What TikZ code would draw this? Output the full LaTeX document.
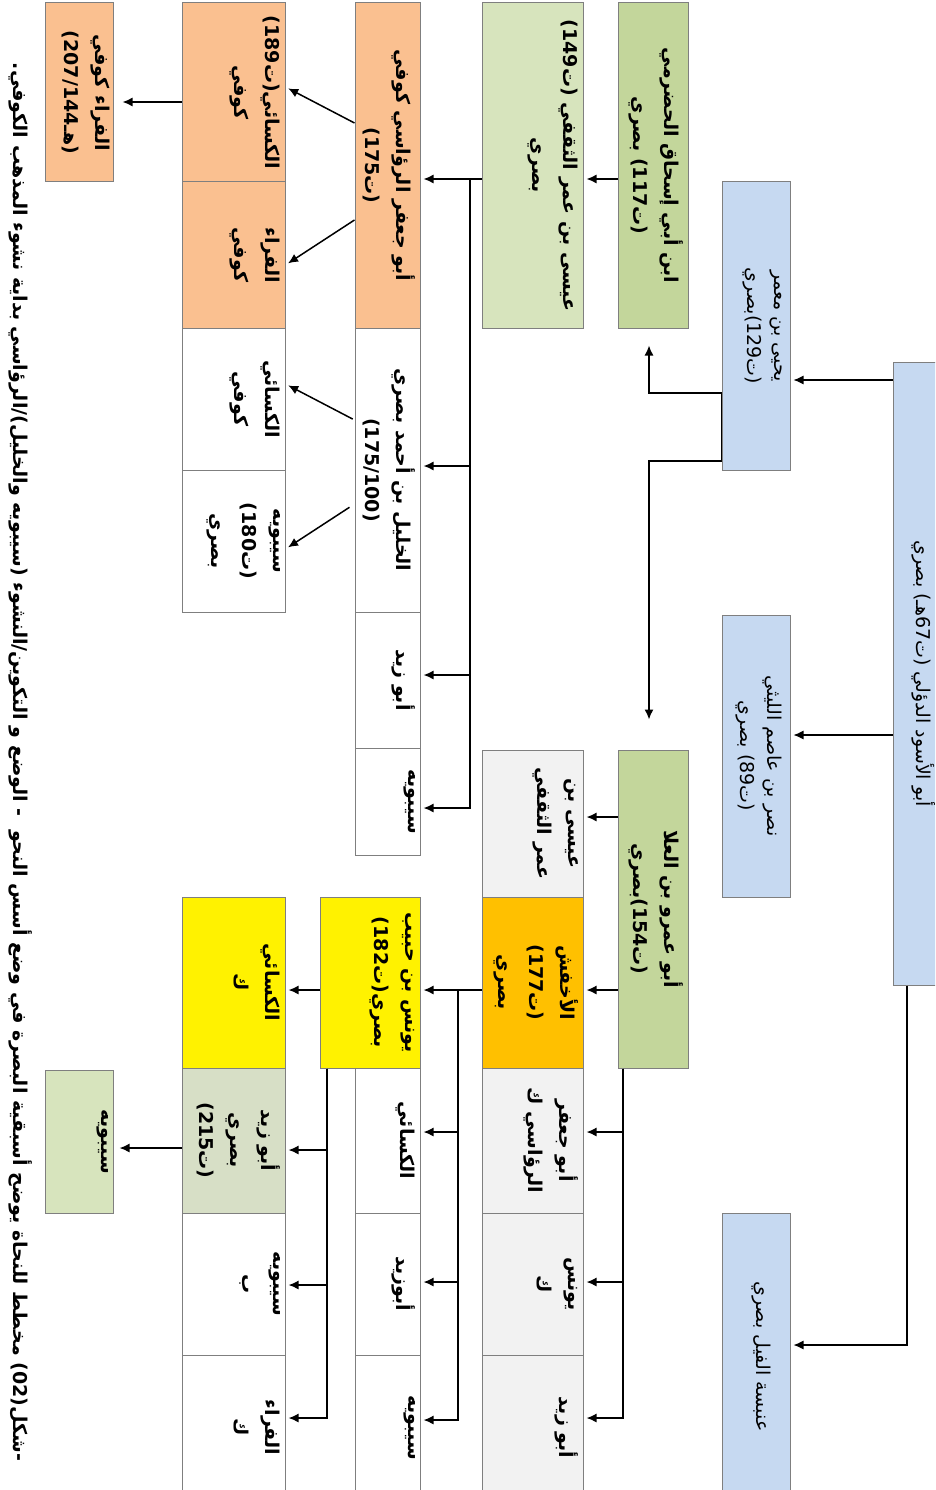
\documentclass[tikz,border=0pt]{standalone}
\usepackage{fontspec}
\newfontfamily\arabicfont[Script=Arabic]{DejaVu Sans}
\TeXXeTstate=1
\usetikzlibrary{arrows.meta}
\definecolor{boxline}{HTML}{7F7F7F}
\definecolor{basra}{HTML}{C6D9F1}
\definecolor{greenA}{HTML}{C3D69B}
\definecolor{greenB}{HTML}{D7E4BD}
\definecolor{greenC}{HTML}{D7DFC6}
\definecolor{kufa}{HTML}{FAC090}
\definecolor{amber}{HTML}{FFC000}
\definecolor{grayc}{HTML}{F2F2F2}
% text of a box: length along the text, breadth across it
\newcommand{\cellbox}[3]{\parbox[c][#2pt][t]{#1pt}{\centering\vspace*{5pt}#3}}
\newcommand{\rl}[1]{\beginR#1\endR}

\begin{document}
\begin{tikzpicture}[x=1pt,y=-1pt,>=Latex,
cell/.style={draw=boxline,line width=1pt,rotate=-90,inner sep=0pt,font=\arabicfont\bfseries\fontsize{19}{31}\selectfont},
root cell/.style={cell,font=\arabicfont\fontsize{19}{27}\selectfont},
flow/.style={-{Latex[length=10pt,width=9pt]},line width=1.5pt,shorten >=3pt},
caption/.style={rotate=-90,inner sep=0pt,font=\arabicfont\bfseries\fontsize{19}{22}\selectfont}]
\useasboundingbox (0,0) rectangle (935,1490);
\clip (0,0) rectangle (935,1490);

% Basra: first generations
\node[root cell,fill=basra] (root) at (915,673.5) {\cellbox{623}{44}{\vspace*{-3pt}\rl{أبو الأسود الدؤلي (ت67هـ) بصري}}};
\node[root cell,fill=basra] (yahya) at (756,326) {\cellbox{288}{68}{\vspace*{3pt}\rl{يحيى بن معمر}\\\rl{(ت129)بصري}}};
\node[root cell,fill=basra] (nasr) at (756,756) {\cellbox{282}{68}{\vspace*{3pt}\rl{نصر بن عاصم الليثي}\\\rl{(ت89) بصري}}};
\node[root cell,fill=basra] (anbasa) at (756,1356.5) {\cellbox{287}{68}{\vspace*{14pt}\rl{عنبسة الفيل بصري}}};

\node[cell,fill=greenA] (ishaq) at (653,165.5) {\cellbox{325}{70}{\rl{ابن أبي إسحاق الحضرمي}\\\rl{(ت117) بصري}}};
\node[cell,fill=greenA] (abuamr) at (653,909) {\cellbox{318}{70}{\rl{أبو عمرو بن العلا}\\\rl{(ت154)بصري}}};

\node[cell,fill=greenB] (isa1) at (532.5,165.5) {\cellbox{325}{101}{\rl{عيسى بن عمر الثقفي (ت149)}\\\rl{بصري}}};
\node[cell,fill=grayc] (isa2) at (532.5,823.5) {\cellbox{147}{101}{\rl{عيسى بن}\\\rl{عمر الثقفي}}};
\node[cell,fill=amber] (akhfash) at (532.5,982.5) {\cellbox{171}{101}{\rl{الأخفش}\\\rl{(ت177)}\\\rl{بصري}}};
\node[cell,fill=grayc] (ruasi2) at (532.5,1140.5) {\cellbox{145}{101}{\rl{أبو جعفر}\\\rl{الرؤاسي ك}}};
\node[cell,fill=grayc] (yunus2) at (532.5,1284) {\cellbox{142}{101}{\rl{يونس}\\\rl{ك}}};
\node[cell,fill=grayc] (abuzayd2) at (532.5,1427.5) {\cellbox{145}{101}{\rl{أبو زيد}}};

% second row of teachers
\node[cell,fill=kufa] (ruasi1) at (387.5,165.5) {\cellbox{325}{65}{\rl{أبو جعفر الرؤاسي كوفي}\\\rl{(ت175)}}};
\node[cell,fill=white] (khalil) at (387.5,470) {\cellbox{284}{65}{\rl{الخليل بن أحمد بصري}\\\beginL(175/100)\endL}};
\node[cell,fill=white] (abuzayd1) at (387.5,680) {\cellbox{136}{65}{\rl{أبو زيد}}};
\node[cell,fill=white] (sibawayh1) at (387.5,801.5) {\cellbox{107}{65}{\rl{سيبويه}}};
\node[cell,fill=yellow] (yunus1) at (370,982.5) {\cellbox{171}{100}{\rl{يونس بن حبيب}\\\rl{بصري(ت182)}}};
\node[cell,fill=white] (kisai4) at (387.5,1140.5) {\cellbox{145}{65}{\rl{الكسائي}}};
\node[cell,fill=white] (abuzayd4) at (387.5,1284) {\cellbox{142}{65}{\rl{أبوزيد}}};
\node[cell,fill=white] (sibawayh5) at (387.5,1427.5) {\cellbox{145}{65}{\rl{سيبويه}}};

% pupils
\node[cell,fill=kufa] (kisai1) at (233.5,92.5) {\cellbox{179}{103}{\rl{الكسائي(ت189)}\\\rl{كوفي}}};
\node[cell,fill=kufa] (farra1) at (233.5,255) {\cellbox{146}{103}{\rl{الفراء}\\\rl{كوفي}}};
\node[cell,fill=white] (kisai2) at (233.5,399) {\cellbox{142}{103}{\rl{الكسائي}\\\rl{كوفي}}};
\node[cell,fill=white] (sibawayh2) at (233.5,541) {\cellbox{142}{103}{\rl{سيبويه}\\\rl{(ت180)}\\\rl{بصري}}};
\node[cell,fill=yellow] (kisai3) at (233.5,982.5) {\cellbox{171}{103}{\rl{الكسائي}\\\rl{ك}}};
\node[cell,fill=greenC] (abuzayd3) at (233.5,1140.5) {\cellbox{145}{103}{\rl{أبو زيد}\\\rl{بصري}\\\rl{(ت215)}}};
\node[cell,fill=white] (sibawayh3) at (233.5,1284) {\cellbox{142}{103}{\rl{سيبويه}\\\rl{ب}}};
\node[cell,fill=white] (farra3) at (233.5,1427.5) {\cellbox{145}{103}{\rl{الفراء}\\\rl{ك}}};

\node[cell,fill=kufa] (farra6) at (79,92.5) {\cellbox{179}{68}{\vspace*{-2pt}\rl{الفراء كوفي}\\\beginL(هـ207/144)\endL}};
\node[cell,fill=greenB] (sibawayh4) at (79,1141.5) {\cellbox{143}{68}{\rl{سيبويه}}};

\node[caption] (cap) at (21,762) {\rl{-شكل(02) مخطط للنحاة يوضح أسبقية البصرة في وضع أسس النحو \ - الوضع و التكوين/النشوء (سيبويه والخليل)/الرؤاسي بداية نشوء المذهب الكوفي.}};

% connectors
\draw[flow,line width=1.2pt] (root.south |- 0,380) -- (yahya.north |- 0,380);
\draw[flow,line width=1.2pt] (root.south |- 0,735) -- (nasr.north |- 0,735);
\draw[flow,line width=1.2pt] (root.east -| 907,0) |- (anbasa.north |- 0,1345);

\draw[flow,shorten >=17pt] (yahya.south |- 0,393) -| (ishaq.east -| 649,0);
\draw[flow,shorten >=30pt] (yahya.south |- 0,393) -- (yahya.south |- 0,461) -| (abuamr.west -| 649,0);

\draw[flow] (ishaq.south |- 0,179) -- (isa1.north |- 0,179);
\draw[flow] (isa1.south |- 0,179) -- (ruasi1.north |- 0,179);
\coordinate (isa1-fork) at (470,179);
\draw[flow] (isa1-fork) |- (khalil.north |- 0,466);
\draw[flow] (isa1-fork) |- (abuzayd1.north |- 0,675);
\draw[flow] (isa1-fork) |- (sibawayh1.north |- 0,808);

\draw[flow] (ruasi1.south |- 0,123) -- (kisai1.north |- 0,87);
\draw[flow] (ruasi1.south |- 0,220) -- (farra1.north |- 0,265);
\draw[flow,shorten >=9pt] (kisai1.south |- 0,102) -- (farra6.north |- 0,102);
\draw[flow,shorten <=2pt] (khalil.south |- 0,420) -- (kisai2.north |- 0,384);
\draw[flow,shorten <=6pt] (khalil.south |- 0,504) -- (sibawayh2.north |- 0,549);

\draw[flow] (abuamr.south |- 0,817) -- (isa2.north |- 0,817);
\draw[flow] (abuamr.south |- 0,990) -- (akhfash.north |- 0,990);
\coordinate (abuamr-fork) at (abuamr.east -| 623,0);
\draw[flow] (abuamr-fork) |- (ruasi2.north |- 0,1132);
\draw[flow] (abuamr-fork) |- (yunus2.north |- 0,1282);
\draw[flow] (abuamr-fork) |- (abuzayd2.north |- 0,1418);

\draw[flow] (akhfash.south |- 0,990) -- (yunus1.north |- 0,990);
\coordinate (akhfash-fork) at (458,990);
\draw[flow] (akhfash-fork) |- (kisai4.north |- 0,1132);
\draw[flow] (akhfash-fork) |- (abuzayd4.north |- 0,1282);
\draw[flow] (akhfash-fork) |- (sibawayh5.north |- 0,1420);

\draw[flow] (yunus1.south |- 0,990) -- (kisai3.north |- 0,990);
\coordinate (yunus1-fork) at (yunus1.east -| 327,0);
\draw[flow] (yunus1-fork) |- (abuzayd3.north |- 0,1150);
\draw[flow] (yunus1-fork) |- (sibawayh3.north |- 0,1285);
\draw[flow] (yunus1-fork) |- (farra3.north |- 0,1418);
\draw[flow,shorten >=6pt] (abuzayd3.south |- 0,1148) -- (sibawayh4.north |- 0,1148);
\end{tikzpicture}
\end{document}
